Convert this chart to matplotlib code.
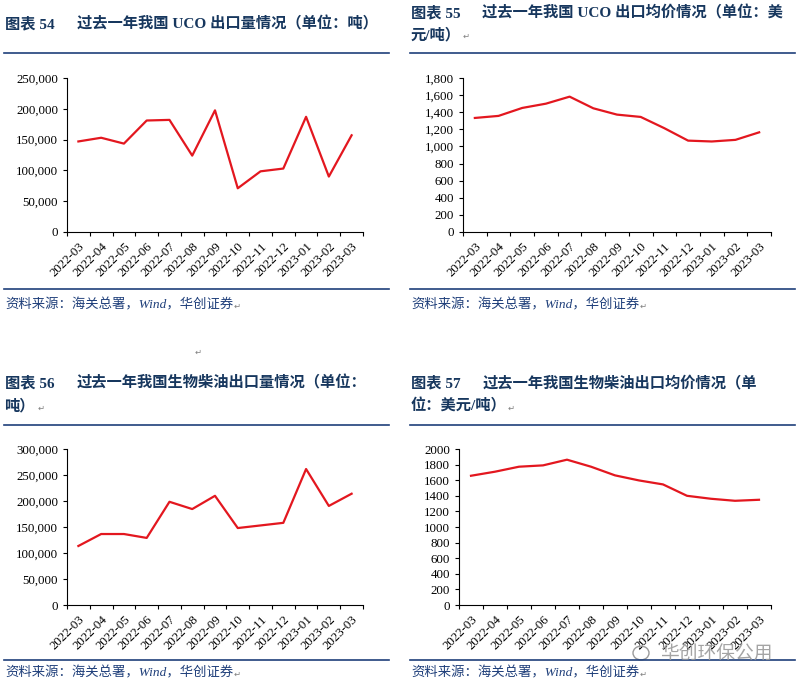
import numpy as np
import matplotlib.pyplot as plt
from matplotlib.lines import Line2D
from matplotlib.ticker import FuncFormatter

months = ["2022-03", "2022-04", "2022-05", "2022-06", "2022-07", "2022-08", "2022-09",
          "2022-10", "2022-11", "2022-12", "2023-01", "2023-02", "2023-03"]

# 图表54 UCO出口量（吨）
uco_qty = [147000, 153000, 143500, 181000, 182000, 124000, 197500,
           71000, 98500, 103000, 187000, 90000, 157000]
# 图表55 UCO出口均价（美元/吨）
uco_price = [1333, 1357, 1450, 1500, 1582, 1446, 1372, 1345, 1213, 1068, 1058, 1077, 1165]
# 图表56 生物柴油出口量（吨）
bio_qty = [113500, 136500, 136500, 129000, 198500, 184500, 210000,
           148000, 153000, 158000, 261500, 190500, 214000]
# 图表57 生物柴油出口均价（美元/吨）
bio_price = [1657, 1709, 1773, 1790, 1863, 1773, 1662, 1597, 1546, 1400, 1362, 1336, 1349]

W, H = 799, 688
fig = plt.figure(figsize=(W / 100, H / 100), dpi=100)

navy = "#1F3F7A"
title_c = "#17375E"
red = "#E3171F"
cjk = ["Liberation Serif", "Noto Sans CJK SC", "DejaVu Sans"]


def box(l, r, t, b):
    return [l / W, 1 - b / H, (r - l) / W, (b - t) / H]


def hline(x0, x1, y, c=navy, lw=1.2):
    fig.add_artist(Line2D([x0 / W, x1 / W], [1 - y / H, 1 - y / H], color=c, lw=lw))


def txt(x, y, s, **kw):
    kw.setdefault("family", cjk)
    fig.text(x / W, 1 - y / H, s, va="center", ha="left", **kw)


def chart(pos, vals, ymax, step, fmt):
    ax = fig.add_axes(box(*pos))
    x = np.arange(len(months)) + 0.5
    ax.plot(x, vals, color=red, lw=1.6)
    ax.set_xlim(0, len(months))
    ax.set_ylim(0, ymax)
    ax.set_yticks(np.arange(0, ymax + 1, step))
    ax.yaxis.set_major_formatter(FuncFormatter(fmt))
    ax.set_xticks(np.arange(len(months) + 1))
    ax.set_xticklabels([])
    ax.set_xticks(x, minor=True)
    ax.set_xticklabels(months, minor=True, rotation=45, ha="right", rotation_mode="anchor")
    ax.tick_params(axis="x", which="minor", length=0, pad=6)
    ax.tick_params(axis="both", which="major", length=3, width=0.8, direction="out")
    for lab in ax.get_xticklabels(minor=True) + ax.get_yticklabels():
        lab.set_family("Liberation Serif")
        lab.set_fontsize(9.3)
    for s in ["top", "right"]:
        ax.spines[s].set_visible(False)
    for s in ["left", "bottom"]:
        ax.spines[s].set_linewidth(0.8)
    return ax


comma = lambda v, p: f"{int(v):,}"
plain = lambda v, p: f"{int(v)}"

chart((67, 363, 78, 232), uco_qty, 250000, 50000, comma)
chart((463, 771, 78, 232), uco_price, 1800, 200, comma)
chart((67, 363, 449, 605), bio_qty, 300000, 50000, comma)
chart((459, 771, 449, 605), bio_price, 2000, 200, plain)

# titles
tkw = dict(color=title_c, fontsize=11, fontweight="bold")
txt(5, 24, "图表 54", **tkw)
txt(77, 24, "过去一年我国 UCO 出口量情况（单位：吨）", **tkw)
txt(411, 13, "图表 55", **tkw)
txt(482, 13, "过去一年我国 UCO 出口均价情况（单位：美", **tkw)
txt(411, 35, "元/吨）", **tkw)
txt(5, 383, "图表 56", **tkw)
txt(77, 383, "过去一年我国生物柴油出口量情况（单位：", **tkw)
txt(4, 406, "吨）", **tkw)
txt(411, 383, "图表 57", **tkw)
txt(483, 383, "过去一年我国生物柴油出口均价情况（单", **tkw)
txt(411, 406, "位：美元/吨）", **tkw)

# paragraph marks
mkw = dict(color="#808080", fontsize=6, family="DejaVu Sans")
txt(463, 36, "↵", **mkw)
txt(38, 408, "↵", **mkw)
txt(508, 408, "↵", **mkw)
txt(195, 352, "↵", **mkw)

# rules
for y in (53, 289, 425, 660):
    hline(4, 389, y)
    hline(410, 795, y)

# sources
skw = dict(color=navy, fontsize=9.6, style="italic")
src = "资料来源：海关总署，Wind，华创证券"
for (x, y) in [(5, 305), (411, 305), (5, 673), (411, 673)]:
    txt(x, y, src, **skw)
    txt(x + 229, y + 1, "↵", **mkw)

# watermark
txt(660, 654, "华创环保公用", color="#9A9A9A", fontsize=13.5, family=["Noto Sans CJK SC"], alpha=0.9)
fig.add_artist(plt.Circle((641 / W, 1 - 653 / H), 8 / W, transform=fig.transFigure,
                          fill=False, ec="#9A9A9A", lw=1))

fig.savefig("out.png", dpi=100)
